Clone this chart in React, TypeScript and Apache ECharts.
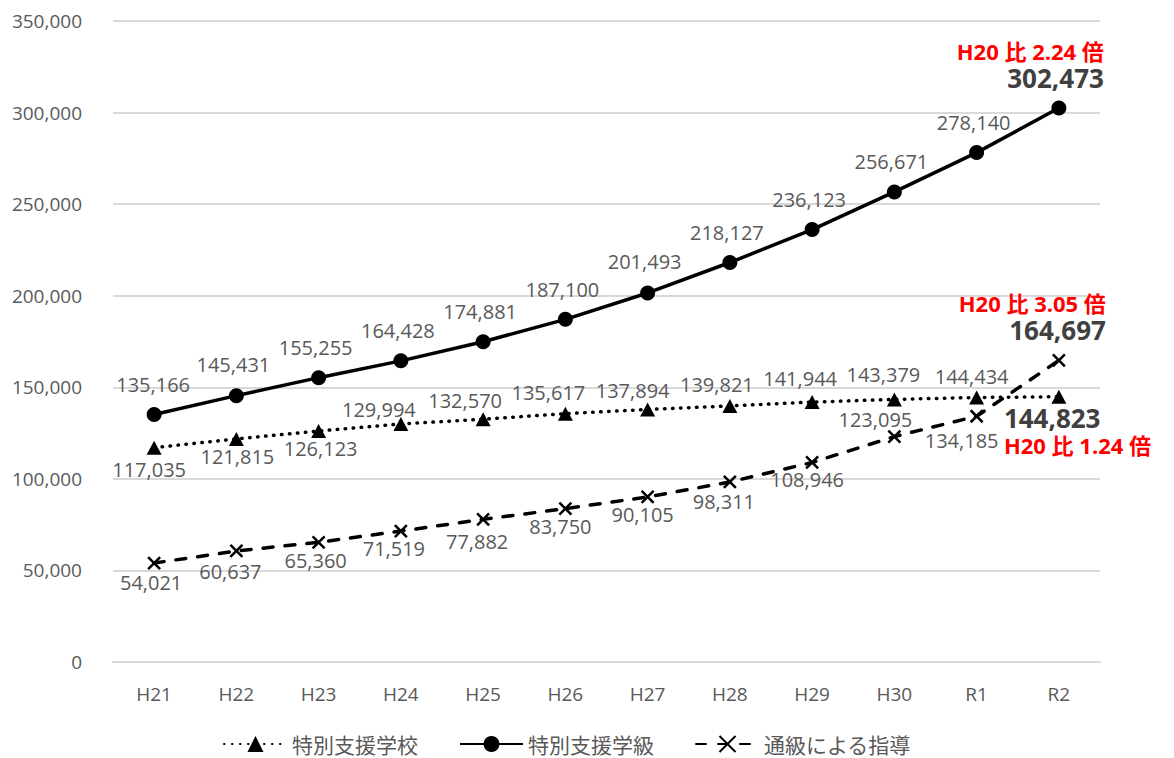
import React, { useEffect, useRef } from 'react';
import * as echarts from 'echarts';

const categories = ['H21', 'H22', 'H23', 'H24', 'H25', 'H26', 'H27', 'H28', 'H29', 'H30', 'R1', 'R2'];
const schoolValues = [117035, 121815, 126123, 129994, 132570, 135617, 137894, 139821, 141944, 143379, 144434, 144823];
const classValues = [135166, 145431, 155255, 164428, 174881, 187100, 201493, 218127, 236123, 256671, 278140, 302473];
const tsukyuValues = [54021, 60637, 65360, 71519, 77882, 83750, 90105, 98311, 108946, 123095, 134185, 164697];
const seriesNames = ['特別支援学校', '特別支援学級', '通級による指導'];
const ratioNotes = ['H20 比 1.24 倍', 'H20 比 2.24 倍', 'H20 比 3.05 倍'];
const yMax = 350000;
const yInterval = 50000;

// label offsets (style only): [dx, dy] from point centre to label centre
const schoolOffsets = [[-5, 22], [1, 18], [2, 17], [-22, -14], [-18, -19], [-17, -21], [-15, -19], [-13, -21], [-12, -24], [-11, -25], [-5, -21]];
const classOffsets = [[-1, -30], [-3, -31], [-3, -30], [-3, -30], [-3, -30], [-3, -30], [-3, -31], [-3, -30], [-3, -30], [-3, -30], [-3, -30]];
const tsukyuOffsets = [[-3, 19], [-6, 21], [-3, 18], [-7, 17], [-6, 22], [-5, 18], [-5, 18], [-6, 20], [-5, 17], [-19, -17], [-15, 24]];

const FONT = "'Open Sans', 'Noto Sans CJK JP', sans-serif";
const fmt = (v: number) => v.toLocaleString('en-US');

const richStyles = {
  r: { color: '#ff0000', fontWeight: 'bold', fontSize: 22, lineHeight: 26, fontFamily: FONT },
  b: { color: '#404040', fontWeight: 'bold', fontSize: 26, lineHeight: 28, fontFamily: FONT },
};

function buildData(values: number[], offsets: number[][], lastLabel: any) {
  return values.map((v, i) => {
    if (i === values.length - 1) {
      return { value: v, label: lastLabel };
    }
    return {
      value: v,
      label: {
        show: true,
        position: 'inside',
        offset: offsets[i],
        formatter: fmt(v),
        color: '#595959',
        fontSize: 20,
        fontFamily: FONT,
      },
    };
  });
}

export default function App() {
  const ref = useRef<HTMLDivElement>(null);
  useEffect(() => {
    document.body.style.margin = '0';
    if (!ref.current) return;
    const chart = echarts.init(ref.current, undefined, { renderer: 'svg' });
    const lastIdx = categories.length - 1;
    const option: any = {
      animation: false,
      backgroundColor: '#ffffff',
      textStyle: { fontFamily: FONT },
      grid: { left: 113, right: 74, top: 21, bottom: 96, containLabel: false },
      legend: {
        left: 223,
        top: 732,
        padding: 0,
        itemWidth: 63,
        itemHeight: 20,
        itemGap: 41,
        textStyle: { fontSize: 21, lineHeight: 24, color: '#595959', fontFamily: "'Noto Sans CJK JP', sans-serif" },
        data: seriesNames,
      },
      xAxis: {
        type: 'category',
        data: categories,
        boundaryGap: true,
        axisLine: { lineStyle: { color: '#d9d9d9', width: 2 } },
        axisTick: { show: false },
        axisLabel: { margin: 22, fontSize: 19, color: '#595959', fontFamily: FONT },
      },
      yAxis: {
        type: 'value',
        min: 0,
        max: yMax,
        interval: yInterval,
        axisLine: { show: false },
        axisTick: { show: false },
        splitLine: { lineStyle: { color: '#d9d9d9', width: 2 } },
        axisLabel: { margin: 31, fontSize: 19, color: '#595959', fontFamily: FONT, formatter: (v: number) => fmt(v) },
      },
      series: [
        {
          name: seriesNames[0],
          type: 'line',
          symbol: 'triangle',
          symbolSize: [15, 14],
          itemStyle: { color: '#000000' },
          lineStyle: { color: '#000000', width: 3.5, type: [0.5, 7.5], cap: 'round' },
          z: 3,
          data: buildData(schoolValues, schoolOffsets, {
            show: true,
            position: 'inside',
            align: 'left',
            offset: [-55, 34],
            formatter: `{b|${fmt(schoolValues[lastIdx])}}\n{r|${ratioNotes[0]}}`,
            rich: richStyles,
          }),
        },
        {
          name: seriesNames[1],
          type: 'line',
          symbol: 'circle',
          symbolSize: 15,
          itemStyle: { color: '#000000' },
          lineStyle: { color: '#000000', width: 3.5, type: 'solid' },
          z: 4,
          data: buildData(classValues, classOffsets, {
            show: true,
            position: 'inside',
            align: 'right',
            offset: [45, -43],
            formatter: `{r|${ratioNotes[1]}}\n{b|${fmt(classValues[lastIdx])}}`,
            rich: richStyles,
          }),
        },
        {
          name: seriesNames[2],
          type: 'line',
          symbol: 'path://M0,0L10,10M10,0L0,10',
          symbolSize: 12,
          itemStyle: { color: '#000000', borderColor: '#000000', borderWidth: 2.5 },
          lineStyle: { color: '#000000', width: 3.5, type: [10, 12], cap: 'round' },
          z: 3,
          data: buildData(tsukyuValues, tsukyuOffsets, {
            show: true,
            position: 'inside',
            align: 'right',
            offset: [47, -43],
            formatter: `{r|${ratioNotes[2]}}\n{b|${fmt(tsukyuValues[lastIdx])}}`,
            rich: richStyles,
          }),
        },
      ],
    };
    chart.setOption(option);
    return () => chart.dispose();
  }, []);
  return <div ref={ref} style={{ width: 1174, height: 758 }} />;
}
